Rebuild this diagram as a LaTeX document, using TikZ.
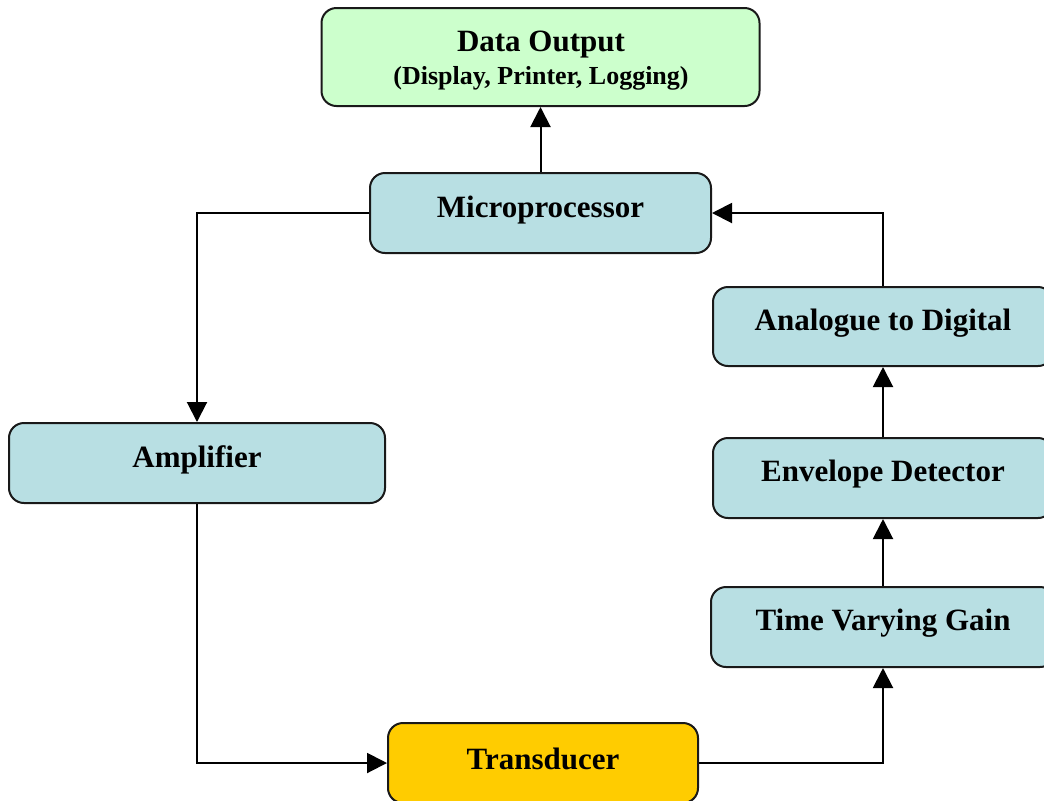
\documentclass[tikz,border=0pt]{standalone}
\usepackage{fontspec}
\setmainfont{Liberation Serif}
\usetikzlibrary{arrows.meta}
\definecolor{boxblue}{HTML}{B8DFE3}
\definecolor{boxgreen}{HTML}{CCFFCC}
\definecolor{boxgold}{HTML}{FFCC00}
\tikzset{
  blk/.style={draw=black!90, line width=1pt, rounded corners=7.5pt, rectangle, inner sep=0pt, minimum height=40pt},
  lbl/.style={font=\bfseries\fontsize{15.5}{18}\selectfont, inner sep=0pt},
  sublbl/.style={font=\bfseries\fontsize{13}{15}\selectfont, inner sep=0pt},
  conn/.style={line width=1pt, -{Triangle[length=10pt,width=10pt]}}
}
\begin{document}
\begin{tikzpicture}[x=0.5pt,y=-0.5pt]
\useasboundingbox (0,0) rectangle (1044,800);
\clip (0,0) rectangle (1044,800);
% boxes
\node[blk, fill=boxgreen, minimum width=219pt, minimum height=49pt] (out) at (540.5,57) {};
\node[blk, fill=boxblue, minimum width=170.5pt] (mp) at (540.5,213) {};
\node[blk, fill=boxblue, minimum width=170pt, minimum height=39.5pt] (ad) at (883,326.5) {};
\node[blk, fill=boxblue, minimum width=170pt] (env) at (883,478) {};
\node[blk, fill=boxblue, minimum width=172pt] (tvg) at (883,627) {};
\node[blk, fill=boxblue, minimum width=188pt] (amp) at (197,463) {};
\node[blk, fill=boxgold, minimum width=155pt] (tr) at (543,763) {};
% texts
\node[lbl] (outT) at (541,45) {Data Output};
\node[sublbl] (outS) at (541,78) {(Display, Printer, Logging)};
\node[lbl] (mpT) at (540.5,210) {Microprocessor};
\node[lbl] (adT) at (883,323) {Analogue to Digital};
\node[lbl] (envT) at (883,474) {Envelope Detector};
\node[lbl] (tvgT) at (883,623) {Time Varying Gain};
\node[lbl] (ampT) at (197,460) {Amplifier};
\node[lbl] (trT) at (543,759) {Transducer};
% connectors
\draw[conn] (mp.north) -- (out.south);
\draw[conn] (mp.west) -| (amp.north);
\draw[conn] (amp.south) |- (tr.west);
\draw[conn] (tr.east) -| (tvg.south);
\draw[conn] (tvg.north) -- (env.south);
\draw[conn] (env.north) -- (ad.south);
\draw[conn] (ad.north) |- (mp.east);
\end{tikzpicture}
\end{document}
